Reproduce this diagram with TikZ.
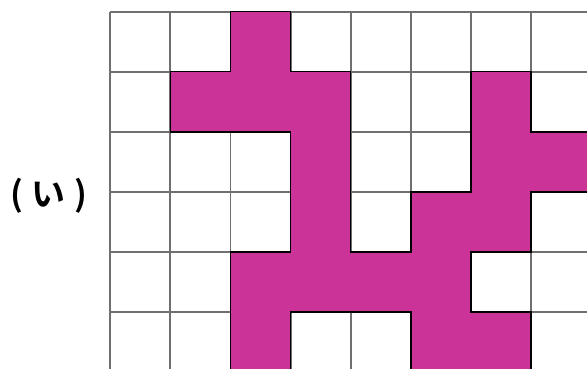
\documentclass[tikz,border=0pt]{standalone}
\usepackage{fontspec}
\newfontfamily\jpfont[BoldFont={Noto Sans CJK JP Bold}]{Noto Sans CJK JP}
\definecolor{mag}{RGB}{204,51,153}
\definecolor{gridgray}{RGB}{112,112,112}
\begin{document}
\begin{tikzpicture}[x=1pt,y=1pt,
  gridline/.style={draw=gridgray, line width=1.9pt},
  shapeline/.style={fill=mag, draw=black, line width=1.5pt, line join=miter},
  labeltext/.style={font=\jpfont\bfseries\fontsize{34}{36}\selectfont, inner sep=0pt}]
\useasboundingbox (0,0) rectangle (587,-369);
\begin{scope}
\clip (0,0) rectangle (587,-369);
\begin{scope}[shift={(110.3,-11.6)}, x=60.1pt, y=-60.1pt]
  \foreach \c in {0,...,8} \draw[gridline] (\c,0) -- (\c,6.5);
  \foreach \r in {0,...,6} \draw[gridline] (0,\r) -- (8.5,\r);
  \filldraw[shapeline] (2,0) -- (3,0) -- (3,1) -- (4,1) -- (4,4) -- (5,4) -- (5,3) -- (6,3)
    -- (6,1) -- (7,1) -- (7,2) -- (8.5,2) -- (8.5,3) -- (7,3) -- (7,4) -- (6,4) -- (6,5)
    -- (7,5) -- (7,6.5) -- (5,6.5) -- (5,5) -- (3,5) -- (3,6.5) -- (2,6.5) -- (2,4)
    -- (3,4) -- (3,2) -- (1,2) -- (1,1) -- (2,1) -- cycle;
\end{scope}
\end{scope}
\node[labeltext] (lbl) at (49,-196) {(\kern9pt い\kern9pt )};
\end{tikzpicture}
\end{document}
